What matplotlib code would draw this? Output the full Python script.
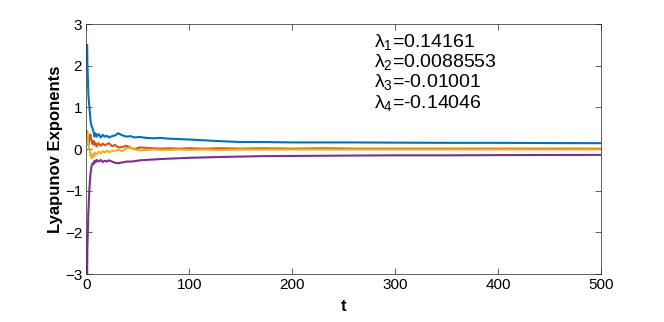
import matplotlib
matplotlib.use("Agg")
import matplotlib.pyplot as plt

plt.rcParams['font.family'] = ['Liberation Sans', 'DejaVu Sans']
plt.rcParams['mathtext.fontset'] = 'custom'
plt.rcParams['mathtext.rm'] = 'Liberation Sans'
plt.rcParams['mathtext.it'] = 'Liberation Sans:italic'

# valeurs
t = [0.8, 1, 2, 3, 4, 5, 6, 7, 8, 9, 10, 12, 14, 16, 18, 20, 22, 25, 28, 31,
     35, 39, 43, 47, 52, 58, 65, 72, 80, 90, 100, 115, 130, 150, 170, 200,
     230, 260, 300, 350, 400, 450, 500]
lam1 = [2.5, 2.1, 1.3, 1.0, 0.7, 0.55, 0.5, 0.42, 0.3, 0.38, 0.3, 0.36, 0.28,
        0.34, 0.3, 0.32, 0.28, 0.31, 0.33, 0.38, 0.33, 0.30, 0.31, 0.28, 0.29,
        0.27, 0.26, 0.27, 0.25, 0.24, 0.23, 0.21, 0.19, 0.17, 0.17, 0.16, 0.16,
        0.16, 0.155, 0.15, 0.15, 0.145, 0.142]
lam2 = [0.42, 0.3, 0.1, 0.25, 0.35, 0.2, 0.12, 0.2, 0.1, 0.15, 0.06, 0.14,
        0.08, 0.13, 0.09, 0.12, 0.14, 0.07, 0.1, 0.04, 0.05, 0.08, 0.03, 0.0,
        0.04, 0.03, 0.02, 0.01, 0.02, 0.01, 0.02, 0.01, 0.02, 0.01, 0.02, 0.01,
        0.02, 0.01, 0.01, 0.01, 0.01, 0.01, 0.009]
lam3 = [0.35, 0.4, 0.1, 0.0, -0.15, -0.22, -0.12, -0.18, -0.08, -0.14, -0.12,
        -0.06, -0.10, -0.05, -0.08, -0.04, -0.07, -0.05, -0.04, -0.02, -0.05,
        0.02, 0.04, -0.01, -0.03, -0.02, -0.01, -0.02, -0.02, -0.01, -0.02,
        -0.01, -0.02, -0.01, -0.01, -0.01, -0.01, -0.01, -0.01, -0.01, -0.01,
        -0.01, -0.010]
lam4 = [-3.0, -2.4, -1.5, -0.95, -0.6, -0.42, -0.34, -0.36, -0.28, -0.32,
        -0.26, -0.30, -0.26, -0.31, -0.28, -0.30, -0.27, -0.30, -0.33, -0.34,
        -0.32, -0.30, -0.30, -0.29, -0.27, -0.26, -0.25, -0.24, -0.23, -0.22,
        -0.21, -0.20, -0.19, -0.18, -0.17, -0.165, -0.16, -0.155, -0.15, -0.15,
        -0.145, -0.142, -0.140]
final_vals = ['0.14161', '0.0088553', '-0.01001', '-0.14046']

colors = ['#0072BD', '#D95319', '#EDB120', '#7E2F8E']

fig = plt.figure(figsize=(6.64, 3.22), dpi=100)
ax = fig.add_axes([0.130, 0.149, 0.775, 0.776])

for vals, c in zip([lam1, lam2, lam3, lam4], colors):
    ax.plot(t, vals, color=c, linewidth=1.5)

ax.set_xlim(0, 500)
ax.set_ylim(-3, 3)
ax.set_xticks([0, 100, 200, 300, 400, 500])
ax.set_yticks([-3, -2, -1, 0, 1, 2, 3])
ax.tick_params(direction='in', top=True, right=True, labelsize=11,
               length=4, width=0.5, color='#262626', pad=3)
for s in ax.spines.values():
    s.set_linewidth(0.5)
    s.set_color('#262626')

ax.set_xlabel('t', fontsize=12, fontweight='bold', labelpad=5)
ax.set_ylabel('Lyapunov Exponents', fontsize=12, fontweight='bold', labelpad=1.5)

# texte des exposants
y_txt = [2.45, 1.97, 1.50, 0.98]
for i, (v, y) in enumerate(zip(final_vals, y_txt)):
    ax.text(280, y, 'λ$_{%d}$=%s' % (i + 1, v), fontsize=14, va='baseline')

fig.savefig('out.png', dpi=100)
